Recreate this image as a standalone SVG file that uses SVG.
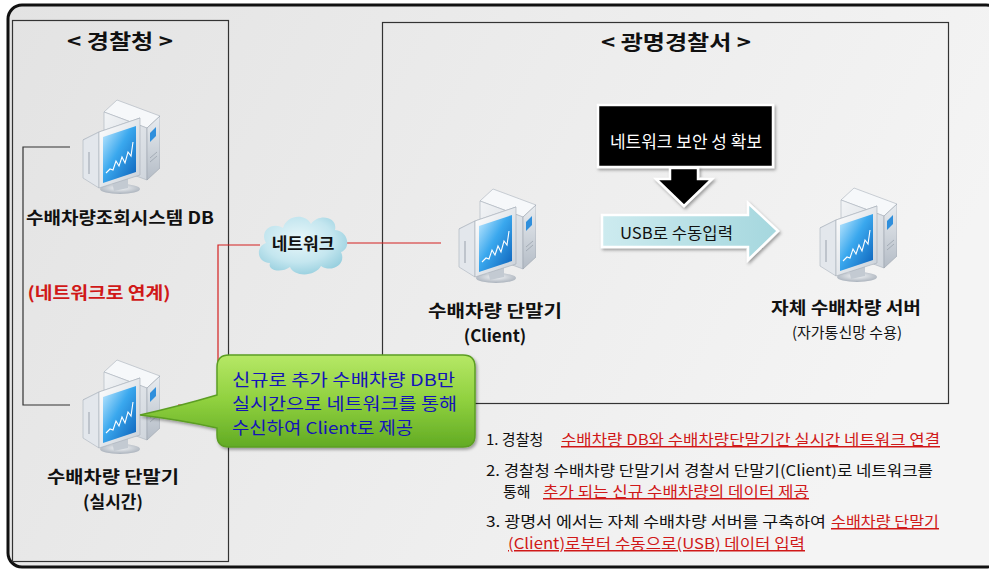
<svg xmlns="http://www.w3.org/2000/svg" xmlns:xlink="http://www.w3.org/1999/xlink" width="989" height="571" viewBox="0 0 989 571">
  <style>
    text { font-family: "Noto Sans CJK KR", "Noto Sans", "Liberation Sans", sans-serif; fill: #111; }
    .title { font-size: 20px; font-weight: bold; }
    .lbl { font-size: 17px; font-weight: bold; }
    .sub { font-size: 15px; }
    .list { font-size: 15px; }
    .red { fill: #d01818; }
    .ul { text-decoration: underline; }
    .callout-text { font-size: 16.5px; fill: #1414b8; }
    .box { fill: none; stroke: #333; stroke-width: 1.2; }
    .wire-gray { fill: none; stroke: #333; stroke-width: 1.2; }
    .wire-red { fill: none; stroke: #d42020; stroke-width: 1.2; }
  </style>
  <defs>
    <linearGradient id="bg" x1="0" y1="0" x2="1" y2="0.3">
      <stop offset="0" stop-color="#e3e3e3"/>
      <stop offset="1" stop-color="#f4f4f4"/>
    </linearGradient>
    <linearGradient id="screen" x1="0" y1="0" x2="1" y2="1">
      <stop offset="0" stop-color="#c8ecff"/>
      <stop offset="0.45" stop-color="#3aa8ee"/>
      <stop offset="1" stop-color="#0b5fb8"/>
    </linearGradient>
    <linearGradient id="towerFront" x1="0" y1="0" x2="0" y2="1">
      <stop offset="0" stop-color="#e8ecf0"/>
      <stop offset="1" stop-color="#b4bcc6"/>
    </linearGradient>
    <linearGradient id="towerSide" x1="0" y1="0" x2="1" y2="1">
      <stop offset="0" stop-color="#f2f4f6"/>
      <stop offset="1" stop-color="#cfd5dc"/>
    </linearGradient>
    <linearGradient id="bezel" x1="0" y1="0" x2="1" y2="1">
      <stop offset="0" stop-color="#ffffff"/>
      <stop offset="1" stop-color="#c9d0d8"/>
    </linearGradient>
    <radialGradient id="base" cx="0.5" cy="0.4" r="0.6">
      <stop offset="0" stop-color="#f4f6f8"/>
      <stop offset="1" stop-color="#a9b1bb"/>
    </radialGradient>
    <radialGradient id="cloud" cx="0.45" cy="0.4" r="0.65">
      <stop offset="0" stop-color="#e9f7fa"/>
      <stop offset="0.6" stop-color="#c4e6ef"/>
      <stop offset="1" stop-color="#93cddd"/>
    </radialGradient>
    <linearGradient id="usb" x1="0" y1="0" x2="1" y2="0">
      <stop offset="0" stop-color="#cdebef"/>
      <stop offset="1" stop-color="#a5d7de"/>
    </linearGradient>
    <linearGradient id="green" x1="0" y1="0" x2="0" y2="1">
      <stop offset="0" stop-color="#b6e866"/>
      <stop offset="0.5" stop-color="#8fd03e"/>
      <stop offset="1" stop-color="#62ab24"/>
    </linearGradient>
    <filter id="shadow" x="-10%" y="-10%" width="125%" height="130%">
      <feDropShadow dx="1.5" dy="2" stdDeviation="1.5" flood-color="#000" flood-opacity="0.35"/>
    </filter>
    <filter id="soft" x="-10%" y="-10%" width="120%" height="120%">
      <feGaussianBlur stdDeviation="0.7"/>
    </filter>

    <!-- desktop computer: monitor in front of a tower case -->
    <symbol id="pc" viewBox="0 0 78 96">
      <ellipse cx="38" cy="91" rx="20" ry="5" fill="url(#base)"/>
      <!-- tower case -->
      <polygon points="22,14 35,2 78,18 65,30" fill="#f6f8fa" stroke="#aab2bc" stroke-width="0.6"/>
      <polygon points="22,14 65,30 65,82 22,66" fill="url(#towerSide)" stroke="#aab2bc" stroke-width="0.6"/>
      <polygon points="65,30 78,18 78,70 65,82" fill="url(#towerFront)" stroke="#9aa3ad" stroke-width="0.6"/>
      <polygon points="68,35 74,29 74,38 68,44" fill="#2f8fdc"/>
      <line x1="68" y1="60" x2="75" y2="54" stroke="#9aa3ad" stroke-width="0.8"/>
      <line x1="68" y1="64" x2="75" y2="58" stroke="#9aa3ad" stroke-width="0.8"/>
      <!-- stand neck -->
      <polygon points="30,84 46,79 46,90 32,93" fill="#c3cad2"/>
      <!-- monitor -->
      <polygon points="1,42 40,28 58,20 17,34" fill="#f7f9fb" stroke="#aab2bc" stroke-width="0.6"/>
      <polygon points="1,42 17,34 17,90 1,80" fill="#e3e7ec" stroke="#aab2bc" stroke-width="0.6"/>
      <line x1="7" y1="54" x2="7" y2="76" stroke="#a5adb7" stroke-width="1.2"/>
      <polygon points="17,34 58,20 58,77 17,90" fill="url(#bezel)" stroke="#a5adb7" stroke-width="0.6"/>
      <polygon points="21,39 54,28 54,74 21,85" fill="url(#screen)"/>
      <polyline points="24,75 28,71 31,72 34,63 37,68 40,59 43,65 46,54 49,58 51,44" fill="none" stroke="#ffffff" stroke-width="1.1"/>
    </symbol>
  </defs>

  <!-- page frame -->
  <rect x="0" y="0" width="989" height="571" fill="#ffffff"/>
  <rect x="8" y="5" width="992" height="562" rx="14" ry="14" fill="url(#bg)" stroke="#111" stroke-width="3"/>

  <!-- regions -->
  <g id="region-left">
    <rect class="box" x="12.5" y="20.5" width="216" height="541"/>
    <text class="title" x="120" y="49" text-anchor="middle" textLength="106" lengthAdjust="spacingAndGlyphs">&lt; 경찰청 &gt;</text>
  </g>
  <g id="region-right">
    <rect class="box" x="382.5" y="22.5" width="566" height="381"/>
    <text class="title" x="676" y="50" text-anchor="middle" textLength="150" lengthAdjust="spacingAndGlyphs">&lt; 광명경찰서 &gt;</text>
  </g>

  <!-- connectors -->
  <g id="connectors">
    <polyline class="wire-gray" points="70,147 23,147 23,405 70,405"/>
    <polyline class="wire-red" points="260,245 218,245 218,405 178,405"/>
    <line class="wire-red" x1="345" y1="243" x2="441" y2="243"/>
  </g>

  <!-- nodes -->
  <g id="node-db">
    <use href="#pc" xlink:href="#pc" x="82" y="98" width="78" height="96"/>
    <text class="lbl" x="120" y="224" text-anchor="middle" textLength="188" lengthAdjust="spacingAndGlyphs">수배차량조회시스템 DB</text>
  </g>

  <g id="link-note">
    <text class="lbl red" x="99" y="299" text-anchor="middle" textLength="143" lengthAdjust="spacingAndGlyphs">(네트워크로 연계)</text>
  </g>

  <g id="node-terminal">
    <use href="#pc" xlink:href="#pc" x="82" y="358" width="78" height="96"/>
    <text class="lbl" x="113" y="483" text-anchor="middle" textLength="132" lengthAdjust="spacingAndGlyphs">수배차량 단말기</text>
    <text class="lbl" x="113" y="508" text-anchor="middle">(실시간)</text>
  </g>

  <g id="node-network">
    <path d="M270,263 C257,263 255,247 266,243 C259,231 272,221 283,228 C287,215 305,213 311,224 C319,213 338,217 335,230 C349,231 351,249 341,252 C347,265 331,273 321,266 C315,277 294,277 290,267 C282,273 267,271 270,263 Z" fill="url(#cloud)" filter="url(#soft)"/>
    <text class="lbl" x="303" y="250" text-anchor="middle">네트워크</text>
  </g>

  <g id="node-client">
    <use href="#pc" xlink:href="#pc" x="458" y="187" width="78" height="96"/>
    <text class="lbl" x="495" y="317" text-anchor="middle" textLength="134" lengthAdjust="spacingAndGlyphs">수배차량 단말기</text>
    <text class="lbl" x="495" y="342" text-anchor="middle">(Client)</text>
  </g>

  <g id="node-server">
    <use href="#pc" xlink:href="#pc" x="819" y="186" width="78" height="96"/>
    <text class="lbl" x="846" y="314" text-anchor="middle" textLength="150" lengthAdjust="spacingAndGlyphs">자체 수배차량 서버</text>
    <text class="sub" x="847" y="338" text-anchor="middle">(자가통신망 수용)</text>
  </g>

  <g id="node-security">
    <rect x="598" y="105" width="175" height="62" fill="#000" stroke="#fff" stroke-width="2.5" filter="url(#shadow)"/>
    <text x="686" y="148" text-anchor="middle" style="font-size:17px; fill:#fff" textLength="152" lengthAdjust="spacingAndGlyphs">네트워크 보안 성 확보</text>
    <path d="M670,168 L698,168 L698,179 L712,179 L684,206 L656,179 L670,179 Z" fill="#000" stroke="#fff" stroke-width="2.5" stroke-linejoin="miter" filter="url(#shadow)"/>
  </g>

  <g id="node-usb">
    <path d="M602,215 L748,215 L748,203 L778,231 L748,260 L748,247 L602,247 Z" fill="url(#usb)" stroke="#fff" stroke-width="2.5" filter="url(#shadow)"/>
    <text x="620" y="239" style="font-size:16px" textLength="113" lengthAdjust="spacingAndGlyphs">USB로 수동입력</text>
  </g>

  <g id="callout">
    <path d="M229,355 H463 Q475,355 475,367 V435 Q475,447 463,447 H229 Q217,447 217,435 V428 Q182,420 140,415 Q180,406 217,395 V367 Q217,355 229,355 Z" fill="url(#green)" stroke="#5c9e24" stroke-width="1.5" filter="url(#shadow)"/>
    <text class="callout-text" x="232" y="386" textLength="223" lengthAdjust="spacingAndGlyphs">신규로 추가 수배차량 DB만</text>
    <text class="callout-text" x="232" y="410" textLength="225" lengthAdjust="spacingAndGlyphs">실시간으로 네트워크를 통해</text>
    <text class="callout-text" x="232" y="434" textLength="181" lengthAdjust="spacingAndGlyphs">수신하여 Client로 제공</text>
  </g>

  <!-- numbered notes -->
  <g id="notes">
    <text class="list" x="486" y="445">1. 경찰청</text>
    <text class="list red ul" x="561" y="445" textLength="379" lengthAdjust="spacingAndGlyphs">수배차량 DB와 수배차량단말기간 실시간 네트워크 연결</text>
    <text class="list" x="486" y="476" textLength="447" lengthAdjust="spacingAndGlyphs">2. 경찰청 수배차량 단말기서 경찰서 단말기(Client)로 네트워크를</text>
    <text class="list" x="503" y="497">통해</text>
    <text class="list red ul" x="543" y="497" textLength="266" lengthAdjust="spacingAndGlyphs">추가 되는 신규 수배차량의 데이터 제공</text>
    <text class="list" x="486" y="527" textLength="340" lengthAdjust="spacingAndGlyphs">3. 광명서 에서는  자체 수배차량 서버를 구축하여</text>
    <text class="list red ul" x="831" y="527" textLength="108" lengthAdjust="spacingAndGlyphs">수배차량 단말기</text>
    <text class="list red ul" x="508" y="549" textLength="297" lengthAdjust="spacingAndGlyphs">(Client)로부터 수동으로(USB)  데이터 입력</text>
  </g>
</svg>
